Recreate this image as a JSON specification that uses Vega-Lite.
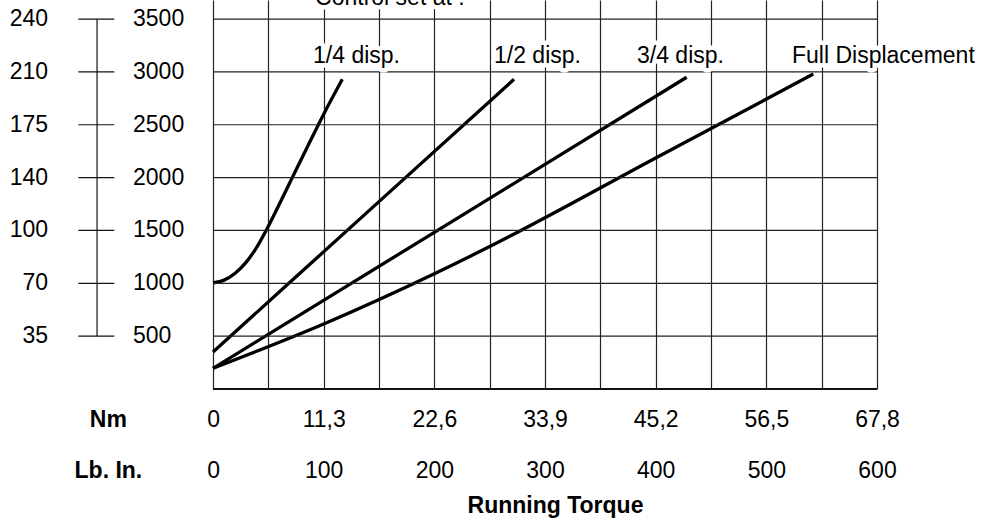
{
  "$schema": "https://vega.github.io/schema/vega-lite/v6.json",
  "width": 877,
  "height": 389,
  "autosize": {"type": "none"},
  "padding": {"left": 0, "top": 0, "right": 107, "bottom": 131},
  "background": "white",
  "config": {
    "view": {"stroke": null},
    "font": "Liberation Sans",
    "text": {"font": "Liberation Sans", "fontSize": 23, "color": "black"}
  },
  "datasets": {
    "levels": [
      {"psi": 500, "bar": 35},
      {"psi": 1000, "bar": 70},
      {"psi": 1500, "bar": 100},
      {"psi": 2000, "bar": 140},
      {"psi": 2500, "bar": 175},
      {"psi": 3000, "bar": 210},
      {"psi": 3500, "bar": 240}
    ],
    "curves": [
      {"series": "1/4", "lbin": 0, "psi": 1005},
      {"series": "1/4", "lbin": 10, "psi": 1030},
      {"series": "1/4", "lbin": 20, "psi": 1095},
      {"series": "1/4", "lbin": 30, "psi": 1200},
      {"series": "1/4", "lbin": 40, "psi": 1350},
      {"series": "1/4", "lbin": 50, "psi": 1540},
      {"series": "1/4", "lbin": 60, "psi": 1750},
      {"series": "1/4", "lbin": 70, "psi": 1965},
      {"series": "1/4", "lbin": 85, "psi": 2285},
      {"series": "1/4", "lbin": 100, "psi": 2600},
      {"series": "1/4", "lbin": 116.8, "psi": 2930},
      {"series": "1/2", "lbin": 0, "psi": 350},
      {"series": "1/2", "lbin": 136, "psi": 1640},
      {"series": "1/2", "lbin": 272, "psi": 2930},
      {"series": "3/4", "lbin": 0, "psi": 196},
      {"series": "3/4", "lbin": 214, "psi": 1572},
      {"series": "3/4", "lbin": 428, "psi": 2949},
      {"series": "Full", "lbin": 0, "psi": 196},
      {"series": "Full", "lbin": 100, "psi": 615},
      {"series": "Full", "lbin": 200, "psi": 1090},
      {"series": "Full", "lbin": 251.8, "psi": 1357},
      {"series": "Full", "lbin": 400, "psi": 2185},
      {"series": "Full", "lbin": 542.4, "psi": 2980}
    ],
    "notes": [
      {"label": "Control set at :", "lbin": 92.2, "psi": 3633},
      {"label": "1/4 disp.", "lbin": 90.4, "psi": 3084},
      {"label": "1/2 disp.", "lbin": 253.9, "psi": 3084},
      {"label": "3/4 disp.", "lbin": 383.1, "psi": 3084},
      {"label": "Full Displacement", "lbin": 523.2, "psi": 3084}
    ]
  },
  "layer": [
    {
      "data": {"name": "curves"},
      "mark": {"type": "line", "color": "black", "strokeWidth": 3.3, "interpolate": "monotone"},
      "encoding": {
        "x": {
          "field": "lbin", "type": "quantitative",
          "scale": {"domain": [-192.5, 600], "nice": false, "zero": false},
          "axis": {
            "title": "Running Torque",
            "values": [-95, 0, 50, 100, 150, 200, 250, 300, 350, 400, 450, 500, 550, 600],
            "labelExpr": "datum.value < 0 ? ['Nm', 'Lb. In.'] : (datum.value % 100 != 0 ? '' : (datum.value == 0 ? ['0', '0'] : [replace(format(datum.value * 0.113, '.1f'), '.', ','), format(datum.value, 'd')]))",
            "labelFont": "Liberation Sans",
            "labelFontSize": 23,
            "labelColor": "black",
            "labelFontWeight": {"condition": {"test": "datum.value < 0", "value": "bold"}, "value": "normal"},
            "labelBaseline": "middle",
            "labelAlign": "center",
            "labelPadding": 30,
            "labelLineHeight": 51,
            "labelOverlap": false,
            "labelFlush": false,
            "labelBound": false,
            "ticks": false,
            "tickSize": 0,
            "domain": false,
            "grid": true,
            "gridColor": "#222222",
            "gridWidth": 1.2,
            "gridOpacity": {"condition": {"test": "datum.value < 0", "value": 0}, "value": 1},
            "titleFont": "Liberation Sans",
            "titleFontSize": 23,
            "titleFontWeight": "bold",
            "titleColor": "black",
            "titleX": 555,
            "titleY": 116,
            "titleBaseline": "middle",
            "titleAlign": "center"
          }
        },
        "y": {"field": "psi", "type": "quantitative", "scale": {"domain": [0, 3680], "nice": false}, "axis": null},
        "detail": {"field": "series"}
      }
    },
    {
      "data": {"name": "levels"},
      "mark": {"type": "rule", "color": "#222222", "strokeWidth": 1.2},
      "encoding": {
        "x": {"datum": 0, "type": "quantitative"},
        "x2": {"datum": 600},
        "y": {"field": "psi", "type": "quantitative", "axis": null}
      }
    },
    {
      "data": {"values": [{}]},
      "mark": {"type": "rule", "color": "#111111", "strokeWidth": 1.8},
      "encoding": {
        "x": {"datum": 0, "type": "quantitative"},
        "x2": {"datum": 600},
        "y": {"datum": 0, "type": "quantitative", "axis": null}
      }
    },
    {
      "data": {"name": "levels"},
      "mark": {"type": "rule", "color": "#111111", "strokeWidth": 1.2},
      "encoding": {
        "x": {"datum": -104.8, "type": "quantitative"},
        "y": {"aggregate": "min", "field": "psi", "type": "quantitative", "axis": null},
        "y2": {"aggregate": "max", "field": "psi"}
      }
    },
    {
      "data": {"name": "levels"},
      "mark": {"type": "rule", "color": "#111111", "strokeWidth": 1.2},
      "encoding": {
        "x": {"datum": -121.7, "type": "quantitative"},
        "x2": {"datum": -89.2},
        "y": {"field": "psi", "type": "quantitative", "axis": null}
      }
    },
    {
      "data": {"name": "levels"},
      "mark": {"type": "text", "align": "right", "baseline": "middle"},
      "encoding": {
        "x": {"datum": -149.1, "type": "quantitative"},
        "y": {"field": "psi", "type": "quantitative", "axis": null},
        "text": {"field": "bar"}
      }
    },
    {
      "data": {"name": "levels"},
      "mark": {"type": "text", "align": "left", "baseline": "middle"},
      "encoding": {
        "x": {"datum": -72.3, "type": "quantitative"},
        "y": {"field": "psi", "type": "quantitative", "axis": null},
        "text": {"field": "psi"}
      }
    },
    {
      "data": {"name": "notes"},
      "mark": {"type": "text", "align": "left", "baseline": "alphabetic", "stroke": "white", "strokeWidth": 9, "strokeJoin": "round", "fill": "white"},
      "encoding": {
        "x": {"field": "lbin", "type": "quantitative", "title": "Running Torque"},
        "y": {"field": "psi", "type": "quantitative", "axis": null},
        "text": {"field": "label"}
      }
    },
    {
      "data": {"name": "notes"},
      "mark": {"type": "text", "align": "left", "baseline": "alphabetic"},
      "encoding": {
        "x": {"field": "lbin", "type": "quantitative", "title": "Running Torque"},
        "y": {"field": "psi", "type": "quantitative", "axis": null},
        "text": {"field": "label"}
      }
    }
  ]
}
